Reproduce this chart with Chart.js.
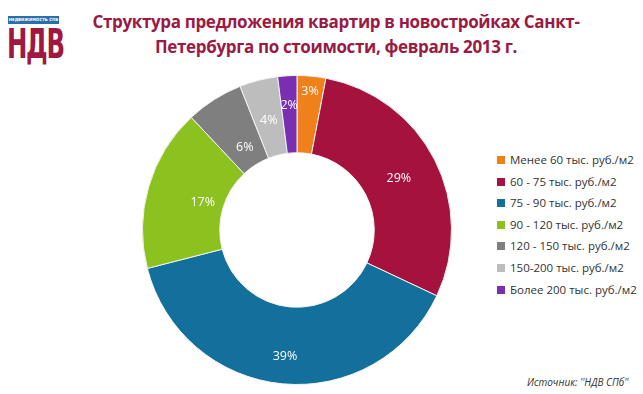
<!DOCTYPE html>
<html>
<head>
<meta charset="utf-8">
<script src="https://cdn.jsdelivr.net/npm/chart.js@4/dist/chart.umd.min.js"></script>
<style>
  html, body { margin: 0; padding: 0; background: #fff; }
  body { width: 643px; height: 394px; position: relative; overflow: hidden; font-family: "Open Sans", sans-serif; }
  .logo-top { position: absolute; left: 8px; top: 16px; width: 51px; height: 8px; background: #2a6fa8; color: #fff; font: bold 4.3px "DejaVu Sans Condensed", sans-serif; line-height: 8px; text-align: center; white-space: nowrap; overflow: hidden; }
  .logo { position: absolute; left: 7px; top: 19px; color: #a0173f; font: bold 41px "DejaVu Sans Condensed", sans-serif; line-height: 50px; letter-spacing: -2px; transform: scaleX(0.66); transform-origin: left top; }
  .title { position: absolute; left: 60px; width: 552px; top: 9px; text-align: center; color: #9b1a43; font-weight: bold; font-size: 17px; line-height: 25px; letter-spacing: -0.35px; }
  .box { position: absolute; left: 142px; top: 75px; width: 310px; height: 310px; }
  .legend { position: absolute; left: 497px; top: 152px; font-size: 11.5px; color: #333; }
  .legend div { height: 21.6px; line-height: 16px; white-space: nowrap; }
  .legend span { display: inline-block; width: 8px; height: 8px; margin-right: 5px; }
  .src { position: absolute; left: 527px; top: 375px; font-size: 10px; font-style: italic; color: #333; }
</style>
</head>
<body>
<div class="logo">НДВ</div>
<div class="logo-top">НЕДВИЖИМОСТЬ СПБ</div>
<div class="title">Структура предложения квартир в новостройках Санкт-<br>Петербурга по стоимости, февраль 2013 г.</div>
<div class="box"><canvas id="chart"></canvas></div>
<div class="legend" id="legend"></div>
<div class="src">Источник: ''НДВ СПб''</div>
<script>
// price bands, share of offer (%)
const categories = [
  "Менее 60 тыс. руб./м2",
  "60 - 75 тыс. руб./м2",
  "75 - 90 тыс. руб./м2",
  "90  - 120 тыс. руб./м2",
  "120 - 150 тыс. руб./м2",
  "150-200 тыс. руб./м2",
  "Более 200 тыс. руб./м2"
];
const shares = [3, 29, 39, 17, 6, 4, 2];
const colors = ["#f0801a", "#a5123d", "#136f9c", "#8cc21f", "#7f7f7f", "#bdbdbd", "#7a2fb0"];

// where each label sits across the ring (0 = inner edge, 1 = outer edge)
const labelDepth = [0.8, 0.48, 0.65, 0.27, 0.26, 0.47, 0.61];

const legend = document.getElementById("legend");
categories.forEach((c, i) => {
  const row = document.createElement("div");
  row.innerHTML = '<span style="background:' + colors[i] + '"></span>' + c;
  legend.appendChild(row);
});

const labelPlugin = {
  id: "labels",
  afterDatasetsDraw(chart) {
    const ctx = chart.ctx;
    const meta = chart.getDatasetMeta(0);
    ctx.save();
    ctx.font = "12.5px 'Open Sans', sans-serif";
    ctx.fillStyle = "#fff";
    ctx.textAlign = "center";
    ctx.textBaseline = "middle";
    meta.data.forEach((arc, i) => {
      const a = (arc.startAngle + arc.endAngle) / 2;
      const r = arc.innerRadius + (arc.outerRadius - arc.innerRadius) * labelDepth[i];
      ctx.fillText(shares[i] + "%", arc.x + Math.cos(a) * r, arc.y + Math.sin(a) * r);
    });
    ctx.restore();
  }
};

new Chart(document.getElementById("chart"), {
  type: "doughnut",
  data: {
    labels: categories,
    datasets: [{
      data: shares,
      backgroundColor: colors,
      borderColor: "#f2f2f2",
      borderWidth: 1
    }]
  },
  options: {
    responsive: true,
    maintainAspectRatio: false,
    animation: false,
    cutout: "50%",
    layout: { padding: 0 },
    plugins: {
      legend: { display: false },
      tooltip: { enabled: false }
    }
  },
  plugins: [labelPlugin]
});
</script>
</body>
</html>
